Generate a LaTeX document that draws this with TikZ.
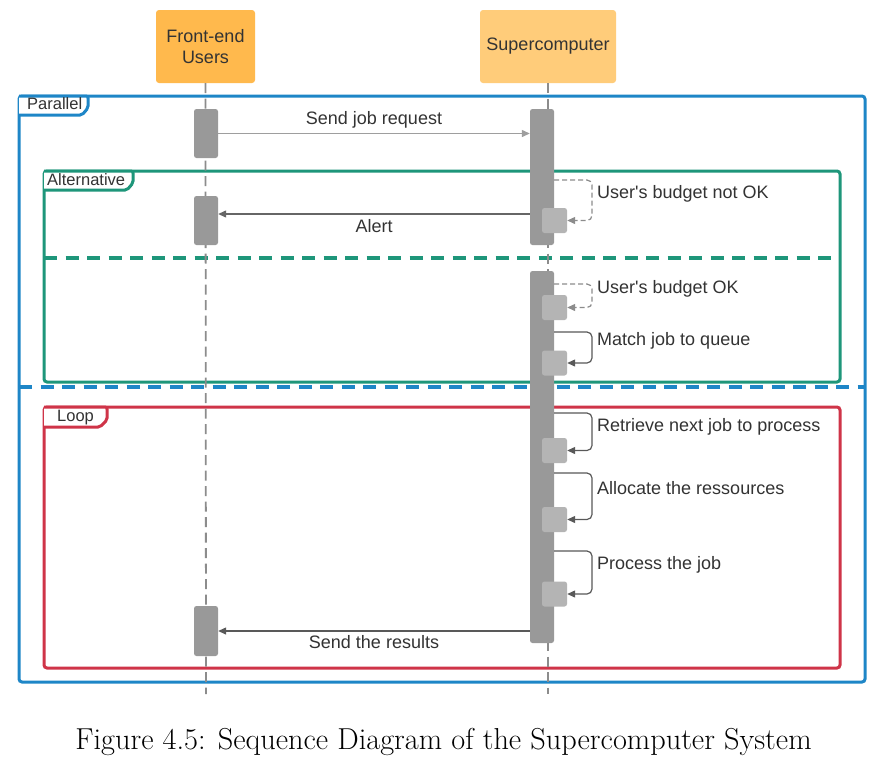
\documentclass[tikz,border=0pt]{standalone}
\usepackage{fontspec}
\setsansfont{Liberation Sans}
\usetikzlibrary{arrows.meta,calc}
\definecolor{actorA}{RGB}{255,185,77}
\definecolor{actorB}{RGB}{255,204,122}
\definecolor{fblue}{RGB}{30,134,199}
\definecolor{fgreen}{RGB}{30,150,122}
\definecolor{fred}{RGB}{207,52,72}
\definecolor{txt}{RGB}{51,51,51}
\definecolor{barc}{RGB}{153,153,153}
\definecolor{subc}{RGB}{180,180,180}
\definecolor{lifec}{RGB}{140,140,140}
\tikzset{
  actor/.style={draw=none, rounded corners=3pt, minimum width=99pt, minimum height=73pt, inner sep=0pt, text=txt, font=\sffamily\fontsize{18}{21}\selectfont, align=center},
  framebox/.style={line width=3pt, rounded corners=3pt},
  tabbox/.style={line width=3pt, fill=white},
  tablbl/.style={inner sep=0pt, anchor=base west, text=txt, font=\sffamily\fontsize{16.5}{18}\selectfont},
  divider/.style={line width=3.6pt, dash pattern=on 13pt off 8.5pt},
  lifeline/.style={draw=lifec, line width=1.8pt, dash pattern=on 10pt off 5.5pt},
  actbar/.style={fill=barc, draw=none, rounded corners=2.5pt, minimum width=24pt, inner sep=0pt},
  subbar/.style={fill=subc, draw=none, rounded corners=2.5pt, minimum width=25pt, minimum height=25pt, inner sep=0pt},
  tip/.style={-{Triangle[length=8pt,width=7pt]}},
  msg/.style={tip, line width=1.3pt},
  selfcall/.style={tip, draw=black!65, line width=1.2pt, rounded corners=5pt},
  selfdash/.style={selfcall, draw=black!45, dash pattern=on 5pt off 3pt},
  lbl/.style={inner sep=0pt, text=txt, font=\sffamily\fontsize{18}{21}\selectfont},
}
\begin{document}
\begin{tikzpicture}[x=1pt,y=-1pt]
\useasboundingbox[fill=white] (0,0) rectangle (888,766);

% frames
\draw[framebox, draw=fblue] (19,96) rectangle (865,682);
\draw[divider, draw=fblue] (19,387) -- (865,387);
\draw[framebox, draw=fgreen] (44,171) rectangle (840,382);
\draw[divider, draw=fgreen] (44,258) -- (840,258);
\draw[framebox, draw=fred] (44,407) rectangle (840,668);

% tabs
\draw[tabbox, draw=fblue, rounded corners=2pt] (19,96) -- (88,96) -- (88,108) -- (82,115) -- (19,115);
\node[tablbl] (tpar) at (27,109) {Parallel};
\draw[tabbox, draw=fgreen, rounded corners=2pt] (44,171) -- (133,171) -- (133,183) -- (127,190) -- (44,190);
\node[tablbl] (talt) at (47,185) {Alternative};
\draw[tabbox, draw=fred, rounded corners=2pt] (44,407) -- (107,407) -- (107,420) -- (100,427) -- (44,427);
\node[tablbl] (tloop) at (57,421) {Loop};

% actors
\node[actor, fill=actorA] (fe) at (205.5,46.5) {Front-end\\Users};
\node[actor, fill=actorB, minimum width=136pt] (sc) at (548,46.5) {Supercomputer};

% lifelines
\coordinate (feEnd) at (206,694);
\coordinate (scEnd) at (548,694);
\draw[lifeline] (fe.south) -- (feEnd);
\draw[lifeline] (sc.south) -- (scEnd);

% activation bars
\node[actbar, minimum height=49pt] (u1) at (206,133.5) {};
\node[actbar, minimum height=49pt] (u2) at (206,220.5) {};
\node[actbar, minimum height=50pt] (u3) at (206,631) {};
\node[actbar, minimum height=136pt] (s1) at (542,177) {};
\node[actbar, minimum height=372pt] (s2) at (542,457) {};

\node[subbar] (b1) at (554.5,220.5) {};
\node[subbar] (b2) at (554.5,307.5) {};
\node[subbar] (b3) at (554.5,363) {};
\node[subbar] (b4) at (554.5,450.5) {};
\node[subbar] (b5) at (554.5,519.5) {};
\node[subbar] (b6) at (554.5,594) {};

% messages
\draw[msg, draw=black!38] (u1.east) -- (s1.west |- u1.east);
\node[lbl, anchor=base] (m1) at (374,124) {Send job request};
\draw[msg, draw=black!60] (s1.west |- 0,214) -- (u2.east |- 0,214);
\node[lbl, anchor=base] (m2) at (374,232) {Alert};
\draw[msg, draw=black!65] (s2.west |- 0,631) -- (u3.east |- 0,631);
\node[lbl, anchor=base] (m3) at (374,648) {Send the results};

% self calls
\coordinate (rx) at (592,0);
\draw[selfdash] (s1.east |- 0,180) -- (rx |- 0,180) -- (b1.east -| rx) -- (b1.east);
\node[lbl, anchor=base west] (l1) at (597,198) {User\textquotesingle s budget not OK};
\draw[selfdash] (s2.east |- 0,284) -- (rx |- 0,284) -- (b2.east -| rx) -- (b2.east);
\node[lbl, anchor=base west] (l2) at (597,293) {User\textquotesingle s budget OK};
\draw[selfcall] (s2.east |- 0,332) -- (rx |- 0,332) -- (b3.east -| rx) -- (b3.east);
\node[lbl, anchor=base west] (l3) at (597,345) {Match job to queue};
\draw[selfcall] (s2.east |- 0,413) -- (rx |- 0,413) -- (b4.east -| rx) -- (b4.east);
\node[lbl, anchor=base west] (l4) at (597,431) {Retrieve next job to process};
\draw[selfcall] (s2.east |- 0,473) -- (rx |- 0,473) -- (b5.east -| rx) -- (b5.east);
\node[lbl, anchor=base west] (l5) at (597,494) {Allocate the ressources};
\draw[selfcall] (s2.east |- 0,551) -- (rx |- 0,551) -- (b6.east -| rx) -- (b6.east);
\node[lbl, anchor=base west] (l6) at (597,569) {Process the job};

% caption
\node[inner sep=0pt, anchor=base, font=\rmfamily\fontsize{30.3}{33}\selectfont] (cap) at (443.5,749) {Figure 4.5: Sequence Diagram of the Supercomputer System};
\end{tikzpicture}
\end{document}
